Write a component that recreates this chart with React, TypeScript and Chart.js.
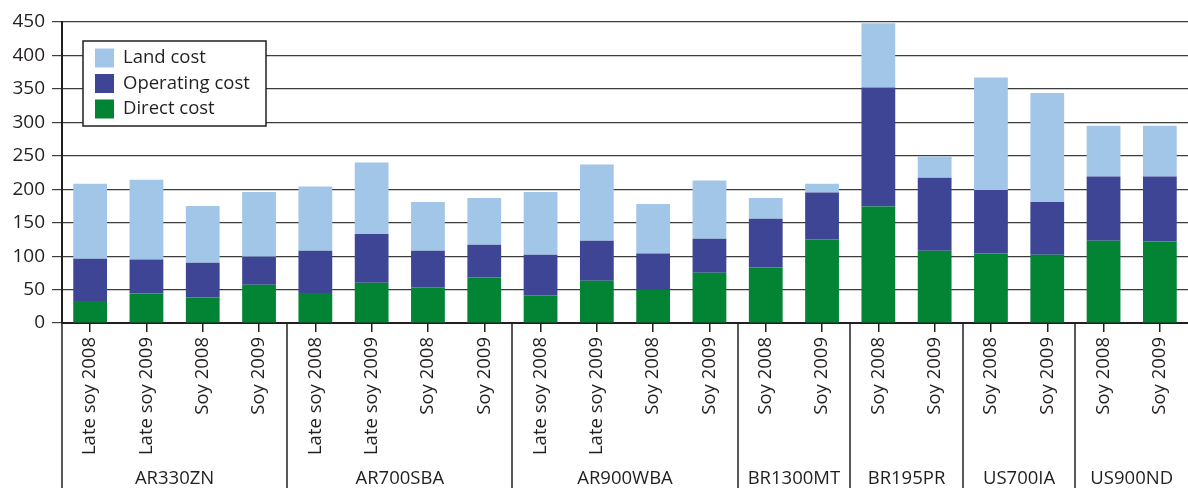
import React, { useEffect, useRef } from "react";
import { Chart, registerables } from "chart.js";

Chart.register(...registerables);

const categories = [
  "Late soy 2008", "Late soy 2009", "Soy 2008", "Soy 2009",
  "Late soy 2008", "Late soy 2009", "Soy 2008", "Soy 2009",
  "Late soy 2008", "Late soy 2009", "Soy 2008", "Soy 2009",
  "Soy 2008", "Soy 2009",
  "Soy 2008", "Soy 2009",
  "Soy 2008", "Soy 2009",
  "Soy 2008", "Soy 2009",
];
const groups = ["AR330ZN", "AR700SBA", "AR900WBA", "BR1300MT", "BR195PR", "US700IA", "US900ND"];
const groupSizes = [4, 4, 4, 2, 2, 2, 2];

const directCost = [33, 44, 38, 57, 45, 60, 53, 68, 41, 63, 50, 75, 83, 125, 174, 108, 104, 102, 123, 122];
const operatingCost = [63, 51, 52, 42, 63, 73, 55, 49, 61, 60, 54, 51, 73, 70, 178, 109, 95, 79, 96, 97];
const landCost = [112, 119, 85, 97, 96, 107, 73, 70, 94, 114, 74, 87, 31, 13, 96, 32, 168, 163, 76, 76];

const yTicks = [0, 50, 100, 150, 200, 250, 300, 350, 400, 450];

const FONT = "'Open Sans', 'Noto Sans', sans-serif";
const INK = "#231f20";
const C_LAND = "#a2c6e8";
const C_OPER = "#3e4594";
const C_DIRECT = "#038334";

const overlayPlugin = {
  id: "overlay",
  afterDraw(chart: any) {
    const ctx = chart.ctx;
    const area = chart.chartArea;
    const xs = chart.scales.x;
    const H = chart.height;
    ctx.save();
    ctx.strokeStyle = INK;
    ctx.lineWidth = 1.5;
    ctx.fillStyle = INK;
    ctx.font = `18.5px ${FONT}`;
    ctx.textAlign = "center";
    ctx.textBaseline = "middle";
    let start = 0;
    const boundary = (i: number) => {
      if (i <= 0) return area.left;
      if (i >= categories.length) return area.right;
      return (xs.getPixelForValue(i - 1) + xs.getPixelForValue(i)) / 2;
    };
    for (let g = 0; g < groups.length; g++) {
      const end = start + groupSizes[g];
      const xl = boundary(start);
      const xr = boundary(end);
      ctx.beginPath();
      ctx.moveTo(Math.round(xl), area.bottom);
      ctx.lineTo(Math.round(xl), H);
      ctx.stroke();
      ctx.fillText(groups[g], (xl + xr) / 2, 479);
      start = end;
    }

    // legend
    const bx = 83, by = 41, bw = 183, bh = 85;
    ctx.fillStyle = "#ffffff";
    ctx.fillRect(bx, by, bw, bh);
    ctx.strokeStyle = INK;
    ctx.lineWidth = 1.5;
    ctx.strokeRect(bx, by, bw, bh);
    const items = [
      { label: "Land cost", color: C_LAND, cy: 58 },
      { label: "Operating cost", color: C_OPER, cy: 83.5 },
      { label: "Direct cost", color: C_DIRECT, cy: 109 },
    ];
    ctx.textAlign = "left";
    ctx.textBaseline = "middle";
    ctx.font = `18.5px ${FONT}`;
    for (const it of items) {
      ctx.fillStyle = it.color;
      ctx.fillRect(95, it.cy - 9.5, 19, 19);
      ctx.fillStyle = INK;
      ctx.fillText(it.label, 123, it.cy);
    }
    ctx.restore();
  },
};

export default function App() {
  const ref = useRef<HTMLCanvasElement | null>(null);
  useEffect(() => {
    if (!ref.current) return;
    const chart = new Chart(ref.current, {
      type: "bar",
      data: {
        labels: categories,
        datasets: [
          { label: "Direct cost", data: directCost, backgroundColor: C_DIRECT, barPercentage: 0.6, categoryPercentage: 1 },
          { label: "Operating cost", data: operatingCost, backgroundColor: C_OPER, barPercentage: 0.6, categoryPercentage: 1 },
          { label: "Land cost", data: landCost, backgroundColor: C_LAND, barPercentage: 0.6, categoryPercentage: 1 },
        ],
      },
      options: {
        responsive: false,
        animation: false,
        devicePixelRatio: 1,
        layout: { padding: { top: 22, right: 0, left: 0, bottom: 0 } },
        plugins: { legend: { display: false }, tooltip: { enabled: false } },
        scales: {
          x: {
            stacked: true,
            grid: {
              display: true,
              drawOnChartArea: false,
              drawTicks: true,
              tickLength: 9,
              offset: false,
              color: INK,
              lineWidth: 1.5,
            },
            border: { display: true, color: INK, width: 2 },
            ticks: {
              autoSkip: false,
              minRotation: 90,
              maxRotation: 90,
              padding: 5,
              color: INK,
              font: { family: FONT, size: 18.5 },
            },
            afterFit: (s: any) => {
              s.height = 165;
            },
          },
          y: {
            stacked: true,
            min: 0,
            max: 450,
            afterBuildTicks: (s: any) => {
              s.ticks = yTicks.map((v) => ({ value: v }));
            },
            grid: { color: "#3c3c3c", lineWidth: 1.2, tickLength: 10 },
            border: { display: true, color: INK, width: 2 },
            ticks: {
              padding: 7,
              color: INK,
              font: { family: FONT, size: 19 },
            },
            afterFit: (s: any) => {
              s.width = 62;
            },
          },
        },
      },
      plugins: [overlayPlugin],
    });
    return () => chart.destroy();
  }, []);
  return (
    <div style={{ position: "absolute", left: 0, top: 0, width: 1188, height: 488, background: "#fff" }}>
      <canvas ref={ref} width={1188} height={488} style={{ display: "block" }} />
    </div>
  );
}
